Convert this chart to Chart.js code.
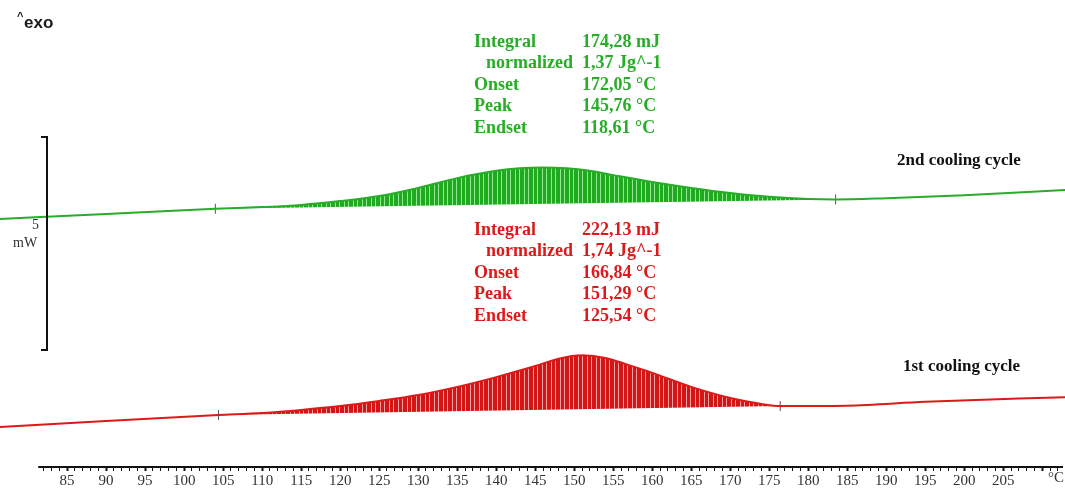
<!DOCTYPE html>
<html>
<head>
<meta charset="utf-8">
<script src="https://cdn.jsdelivr.net/npm/chart.js@4.4.1/dist/chart.umd.min.js"></script>
<style>
  html, body { margin: 0; padding: 0; background: #fff; }
  #wrap { position: relative; width: 1065px; height: 496px; }
</style>
</head>
<body>
<div id="wrap"><canvas id="dsc-chart"></canvas></div>
<script>
// DSC cooling curves: temperature in °C, heat flow in mW (exo up)
const cycle2Temp = [76.4, 90, 104, 110, 115, 120, 125, 130, 135, 140, 143, 146, 149, 152, 155, 160, 165, 170, 175, 180, 183.5, 190, 200, 213];
const cycle2Flow = [5.82, 5.94, 6.06, 6.10, 6.15, 6.24, 6.36, 6.55, 6.78, 6.95, 7.01, 7.03, 7.01, 6.95, 6.85, 6.69, 6.55, 6.43, 6.34, 6.29, 6.28, 6.31, 6.38, 6.50];
const cycle2LimitTemp = [104.0, 183.5];
const cycle2LimitFlow = [6.06, 6.28];

const cycle1Temp = [76.4, 90, 104.4, 110, 115, 120, 125, 130, 135, 140, 145, 148, 151, 154, 157, 160, 165, 170, 174, 176.4, 185, 195, 213];
const cycle1Flow = [0.94, 1.08, 1.22, 1.27, 1.34, 1.43, 1.55, 1.69, 1.88, 2.11, 2.37, 2.54, 2.62, 2.56, 2.39, 2.21, 1.88, 1.62, 1.48, 1.43, 1.44, 1.53, 1.64];
const cycle1LimitTemp = [104.4, 176.4];
const cycle1LimitFlow = [1.22, 1.43];

const resultLabels = ['Integral', 'normalized', 'Onset', 'Peak', 'Endset'];
const cycle2Results = ['174,28 mJ', '1,37 Jg^-1', '172,05 °C', '145,76 °C', '118,61 °C'];
const cycle1Results = ['222,13 mJ', '1,74 Jg^-1', '166,84 °C', '151,29 °C', '125,54 °C'];

const tickFirst = 82, tickLast = 212, labelStep = 5;

const GREEN = '#27ad27', RED = '#dc1a1a';

function stripes(base, light) {
  const c = document.createElement('canvas');
  c.width = 9; c.height = 4;
  const g = c.getContext('2d');
  g.fillStyle = base; g.fillRect(0, 0, 9, 4);
  g.fillStyle = light; g.fillRect(2, 0, 1, 4); g.fillRect(6, 0, 1, 4);
  return g.createPattern(c, 'repeat');
}

const pairs = (xs, ys) => xs.map((t, i) => ({ x: t, y: ys[i] }));

const limitStyle = {
  borderWidth: 0, showLine: false, fill: false,
  pointStyle: 'line', rotation: 90, pointRadius: 5, pointHoverRadius: 5,
  pointBorderColor: '#555', pointBorderWidth: 1
};

// texts, scale bar and axis line
const annotations = {
  id: 'annotations',
  afterDraw(chart) {
    const { ctx, chartArea } = chart;
    const xs = chart.scales.x;
    ctx.save();
    // axis line
    ctx.strokeStyle = '#111'; ctx.lineWidth = 2;
    ctx.beginPath();
    ctx.moveTo(xs.getPixelForValue(81.3), chartArea.bottom);
    ctx.lineTo(chartArea.right - 2, chartArea.bottom);
    ctx.stroke();
    // scale bar
    ctx.beginPath();
    ctx.moveTo(41, 137); ctx.lineTo(47, 137); ctx.lineTo(47, 350); ctx.lineTo(41, 350);
    ctx.stroke();
    ctx.fillStyle = '#333';
    ctx.font = '14px "Liberation Serif"';
    ctx.textBaseline = 'middle';
    ctx.fillText('5', 32, 225);
    ctx.fillText('mW', 13, 243);
    ctx.font = '15px "Liberation Serif"';
    ctx.fillText('°C', 1048, chartArea.bottom + 11);
    // exo marker
    ctx.fillStyle = '#1a1a1a';
    ctx.font = 'bold 11px "Liberation Sans"';
    ctx.fillText('^', 17, 17);
    ctx.font = 'bold 17px "Liberation Sans"';
    ctx.fillText('exo', 24, 23);
    // result blocks
    const block = (vals, color, top) => {
      ctx.fillStyle = color;
      ctx.font = 'bold 18px "Liberation Serif"';
      vals.forEach((v, i) => {
        const y = top + i * 21.5;
        ctx.fillText(resultLabels[i], i === 1 ? 486 : 474, y);
        ctx.fillText(v, 582, y);
      });
    };
    block(cycle2Results, GREEN, 42);
    block(cycle1Results, RED, 230);
    // curve names
    ctx.fillStyle = '#111';
    ctx.font = 'bold 17px "Liberation Serif"';
    ctx.fillText('2nd cooling cycle', 897, 161);
    ctx.fillText('1st cooling cycle', 903, 367);
    ctx.restore();
  }
};

new Chart(document.getElementById('dsc-chart'), {
  type: 'line',
  data: {
    datasets: [{
      label: '2nd cooling cycle',
      data: pairs(cycle2Temp, cycle2Flow),
      borderColor: GREEN,
      backgroundColor: stripes('#1faa1f', '#90e890'),
      borderWidth: 2,
      pointRadius: 0,
      cubicInterpolationMode: 'monotone',
      fill: 1
    }, Object.assign({
      label: 'limits 2',
      data: pairs(cycle2LimitTemp, cycle2LimitFlow)
    }, limitStyle), {
      label: '1st cooling cycle',
      data: pairs(cycle1Temp, cycle1Flow),
      borderColor: RED,
      backgroundColor: stripes('#d41515', '#f4a0a0'),
      borderWidth: 2,
      pointRadius: 0,
      cubicInterpolationMode: 'monotone',
      fill: 3
    }, Object.assign({
      label: 'limits 1',
      data: pairs(cycle1LimitTemp, cycle1LimitFlow)
    }, limitStyle)]
  },
  options: {
    responsive: true,
    maintainAspectRatio: false,
    animation: false,
    layout: { padding: 0, autoPadding: false },
    scales: {
      x: {
        type: 'linear',
        min: 76.4,
        max: 212.9,
        border: { display: false },
        grid: {
          drawOnChartArea: false,
          drawTicks: true,
          tickLength: 4,
          tickColor: '#111',
          tickWidth: (c) => (c.tick && c.tick.value % labelStep === 0 ? 2 : 1)
        },
        afterBuildTicks: (scale) => {
          const t = [];
          for (let v = tickFirst; v <= tickLast; v++) t.push({ value: v });
          scale.ticks = t;
        },
        afterFit: (scale) => { scale.height = 29; },
        ticks: {
          autoSkip: false,
          maxRotation: 0,
          padding: 1,
          color: '#333',
          font: { family: '"Liberation Serif"', size: 15 },
          callback: (v) => (v % labelStep === 0 && v <= 205 ? String(v) : '')
        }
      },
      y: { display: false, min: 0, max: 10.96 }
    },
    plugins: {
      legend: { display: false },
      tooltip: { enabled: false }
    }
  },
  plugins: [annotations]
});
</script>
</body>
</html>
